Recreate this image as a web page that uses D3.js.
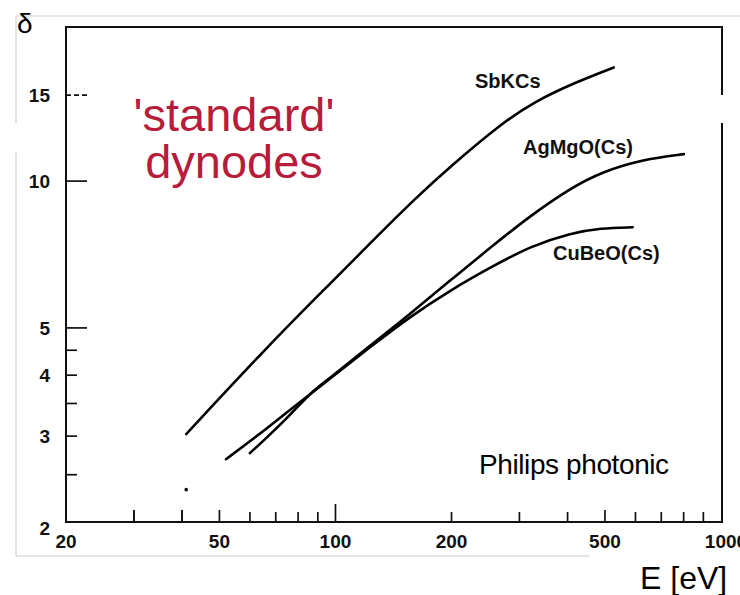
<!DOCTYPE html>
<html>
<head>
<meta charset="utf-8">
<script src="https://cdn.jsdelivr.net/npm/d3@7"></script>
<style>
  body { margin: 0; background: #fff; }
  text { font-family: "Liberation Sans", Arial, sans-serif; }
</style>
</head>
<body>
<div id="chart"></div>
<script>
// curves: energy E [eV] and yield delta
var sbkcsE = [41, 68, 99, 121, 163, 199, 268, 327, 420, 527];
var sbkcsD = [3.03, 4.66, 6.27, 7.36, 9.3, 10.73, 13.08, 14.54, 15.95, 17.1];

var agmgoE = [60, 64, 76, 86, 97, 121, 157, 199, 253, 321, 407, 488, 630, 801];
var agmgoD = [2.77, 2.90, 3.30, 3.68, 3.95, 4.55, 5.36, 6.27, 7.32, 8.51, 9.67, 10.43, 11.09, 11.36];

var cubeoE = [52, 64, 76, 97, 123, 157, 199, 253, 321, 407, 488, 590];
var cubeoD = [2.69, 3.04, 3.39, 3.94, 4.57, 5.29, 5.98, 6.66, 7.36, 7.82, 8.01, 8.04];

var seriesNames = ["SbKCs", "AgMgO(Cs)", "CuBeO(Cs)"];

// stray dot on the scan
var dotE = [41], dotD = [2.33];

var xTickLabels = [20, 50, 100, 200, 500, 1000];
var xMinorTicks = [30, 40, 60, 70, 80, 90, 200, 300, 400, 600, 700, 800, 900];
var xLongTicks = [100];
var xMidTicks = [30, 40, 50, 500];
var yTickLabels = [2, 3, 4, 5, 10, 15];
var yMajorTicks = [5, 10, 15];
var yMinorTicks = [2.5, 3, 3.5, 4, 4.5];

var W = 740, H = 595;

var x = d3.scaleLog().domain([20, 1000]).range([66, 721]);
var y = d3.scaleLog().domain([2, 20.7]).range([522, 27]);

var svg = d3.select("#chart").append("svg")
    .attr("width", W)
    .attr("height", H);

// faint outer frame of the pasted scan
var gray = svg.append("g").attr("stroke", "#cfcfcf").attr("stroke-width", 1.2);
gray.append("line").attr("x1", 16).attr("x2", 740).attr("y1", 16).attr("y2", 16);
gray.append("line").attr("x1", 16).attr("x2", 16).attr("y1", 16).attr("y2", 123);
gray.append("line").attr("x1", 16).attr("x2", 16).attr("y1", 152).attr("y2", 556);
gray.append("line").attr("x1", 16).attr("x2", 590).attr("y1", 556).attr("y2", 556);

// plot frame
svg.append("rect")
    .attr("x", x(20)).attr("y", y(20.7))
    .attr("width", x(1000) - x(20) + 1)
    .attr("height", y(2) - y(20.7))
    .attr("fill", "none")
    .attr("stroke", "#111")
    .attr("stroke-width", 2);

// white patch over the right border (as in the source)
svg.append("rect").attr("x", 700).attr("y", 95).attr("width", 40).attr("height", 28).attr("fill", "#fff");

// ticks on the inside
var ticks = svg.append("g").attr("stroke", "#111").attr("stroke-width", 1.7);
ticks.selectAll(".xt").data(xMinorTicks.concat(xMidTicks, xLongTicks)).enter().append("line")
    .attr("x1", function(d) { return x(d); })
    .attr("x2", function(d) { return x(d); })
    .attr("y1", y(2))
    .attr("y2", function(d) {
        if (xLongTicks.indexOf(d) >= 0) return y(2) - 18;
        if (xMidTicks.indexOf(d) >= 0) return y(2) - 12;
        return y(2) - 10;
    });

ticks.selectAll(".yt").data(yMajorTicks.concat(yMinorTicks)).enter().append("line")
    .attr("x1", x(20))
    .attr("x2", function(d) { return yMajorTicks.indexOf(d) >= 0 ? x(20) + 21 : x(20) + 11; })
    .attr("y1", function(d) { return y(d); })
    .attr("y2", function(d) { return y(d); })
    .attr("stroke-dasharray", function(d) { return d === 15 ? "5,3" : null; });

// tick labels
svg.selectAll(".xl").data(xTickLabels).enter().append("text")
    .attr("x", function(d) { return x(d) + (d === 1000 ? 5 : 0); })
    .attr("y", 548)
    .attr("text-anchor", "middle")
    .attr("font-size", 19)
    .attr("font-weight", "bold")
    .attr("fill", "#111")
    .text(function(d) { return d; });

svg.selectAll(".yl").data(yTickLabels).enter().append("text")
    .attr("x", 50)
    .attr("y", function(d) { return y(d) + (d === 2 ? 13 : 7); })
    .attr("text-anchor", "end")
    .attr("font-size", 19)
    .attr("font-weight", "bold")
    .attr("fill", "#111")
    .text(function(d) { return d; });

// curves
var line = d3.line()
    .x(function(d) { return x(d[0]); })
    .y(function(d) { return y(d[1]); })
    .curve(d3.curveBasis);

var series = [
    d3.zip(sbkcsE, sbkcsD),
    d3.zip(agmgoE, agmgoD),
    d3.zip(cubeoE, cubeoD)
];

svg.selectAll(".curve").data(series).enter().append("path")
    .attr("class", "curve")
    .attr("d", line)
    .attr("fill", "none")
    .attr("stroke", "#000")
    .attr("stroke-width", 2.6)
    .attr("stroke-linecap", "round");

svg.selectAll(".dot").data(d3.zip(dotE, dotD)).enter().append("circle")
    .attr("cx", function(d) { return x(d[0]); })
    .attr("cy", function(d) { return y(d[1]); })
    .attr("r", 1.8)
    .attr("fill", "#000");

// curve labels
var labelPos = [[475, 88], [523, 154], [553, 260]];
svg.selectAll(".lab").data(seriesNames).enter().append("text")
    .attr("x", function(d, i) { return labelPos[i][0]; })
    .attr("y", function(d, i) { return labelPos[i][1]; })
    .attr("font-size", 20)
    .attr("font-weight", "bold")
    .attr("fill", "#111")
    .text(function(d) { return d; });

// annotations
svg.append("text").attr("x", 17).attr("y", 33).attr("font-size", 28).text("δ");

svg.append("text").attr("x", 234).attr("y", 131)
    .attr("text-anchor", "middle").attr("font-size", 47).attr("fill", "#b71c3a")
    .text("'standard'");
svg.append("text").attr("x", 234).attr("y", 178)
    .attr("text-anchor", "middle").attr("font-size", 47).attr("fill", "#b71c3a")
    .text("dynodes");

svg.append("text").attr("x", 479).attr("y", 474)
    .attr("font-size", 28).attr("letter-spacing", -0.4)
    .text("Philips photonic");

svg.append("text").attr("x", 640).attr("y", 589)
    .attr("font-size", 32)
    .text("E [eV]");
</script>
</body>
</html>
